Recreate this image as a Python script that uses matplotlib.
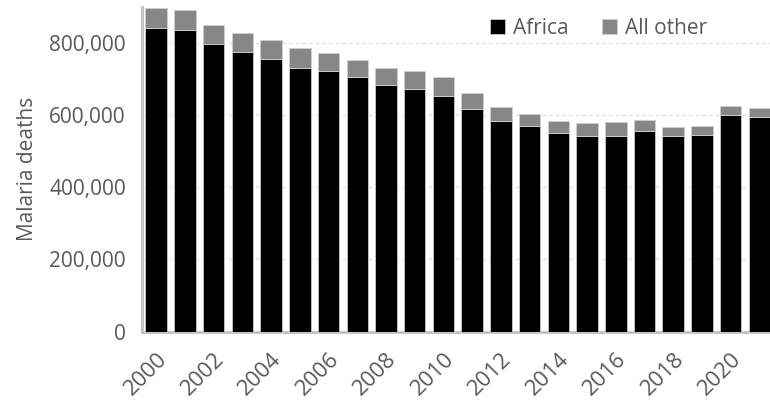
import numpy as np
import matplotlib.pyplot as plt
from matplotlib.ticker import FuncFormatter

years = list(range(2000, 2022))
africa = [843000, 836000, 797000, 776000, 756000, 731000, 722000, 706000, 685000, 672000, 654000,
          618000, 583000, 571000, 550000, 542000, 543000, 555000, 542000, 544000, 600000, 594000]
total = [898000, 891000, 849000, 828000, 809000, 785000, 773000, 753000, 732000, 722000, 705000,
         661000, 622000, 604000, 584000, 577000, 581000, 588000, 568000, 569000, 625000, 620000]
other = [t - a for t, a in zip(total, africa)]

plt.rcParams['font.family'] = ['Open Sans', 'DejaVu Sans']
txt = '#595959'

fig = plt.figure(figsize=(7.7, 4), dpi=100)
ax = fig.add_axes([0.185, 0.171, 0.815, 0.8115])

ind = np.arange(len(years))
w = 0.75
ax.bar(ind, africa, w, color='black', edgecolor='#c8c8c8', linewidth=0.6, label='Africa', zorder=3)
ax.bar(ind, other, w, bottom=africa, color='#878787', edgecolor='#d0d0d0', linewidth=0.6,
       label='All other', zorder=3)

ax.set_xlim(-0.48, 21.37)
ax.set_ylim(0, 900000)
ax.set_yticks([0, 200000, 400000, 600000, 800000])
ax.yaxis.set_major_formatter(FuncFormatter(lambda v, p: f'{int(v):,}'))
ax.grid(axis='y', color='#d9d9d9', linestyle=(0, (3, 3)), linewidth=0.8, zorder=0)

ax.set_xticks(ind[::2])
ax.set_xticklabels([str(y) for y in years[::2]], rotation=45, ha='right',
                   rotation_mode='anchor')
ax.tick_params(axis='both', length=0, labelsize=15, labelcolor=txt)
ax.tick_params(axis='x', pad=12, labelsize=16)
ax.tick_params(axis='y', pad=12)
ax.set_ylabel('Malaria deaths', fontsize=15, color=txt, labelpad=8)

for s in ['top', 'right']:
    ax.spines[s].set_visible(False)
for s in ['left', 'bottom']:
    ax.spines[s].set_color('#c0c0c0')
    ax.spines[s].set_linewidth(2)

ax.legend(loc='upper right', bbox_to_anchor=(0.93, 1.025), ncol=2, frameon=False, fontsize=15,
          labelcolor=txt, handlelength=0.7, handleheight=0.7, columnspacing=1.6, handletextpad=0.4)

fig.savefig('out.png', dpi=100)
